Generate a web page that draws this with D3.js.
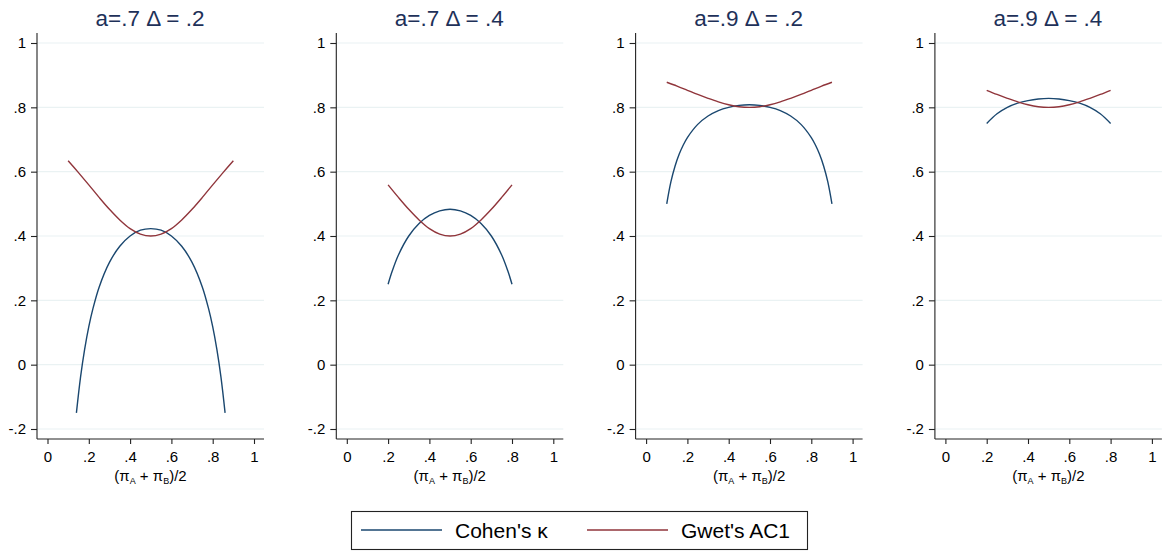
<!DOCTYPE html>
<html>
<head>
<meta charset="utf-8">
<script src="https://cdn.jsdelivr.net/npm/d3@7"></script>
<style>
  body { margin: 0; background: #fff; }
  svg { font-family: "Liberation Sans", Arial, sans-serif; }
</style>
</head>
<body>
<div id="grafico"></div>
<script>
const width = 1166
const height = 553

// panel titles
const titles = ['a=.7 Δ = .2', 'a=.7 Δ = .4', 'a=.9 Δ = .2', 'a=.9 Δ = .4']

// x positions, (πA + πB)/2, left half (mirrored to the right)
const xK1 = [.14, .16, .18, .2, .22, .25, .3, .35, .4, .45, .5]
const xK2 = [.2, .22, .25, .3, .35, .4, .45, .5]
const xK3 = [.1, .12, .14, .16, .18, .2, .25, .3, .35, .4, .45, .5]
const xK4 = [.2, .25, .3, .35, .4, .45, .5]
const xG13 = [.1, .15, .2, .25, .3, .35, .4, .45, .5]
const xG24 = [.2, .25, .3, .35, .4, .45, .5]

// Cohen's kappa values
const kappa1 = [-.150, -.039, .048, .118, .174, .241, .318, .368, .400, .418, .423]
const kappa2 = [.250, .291, .341, .400, .439, .464, .478, .483]
const kappa3 = [.500, .568, .617, .654, .683, .706, .747, .773, .790, .800, .806, .808]
const kappa4 = [.750, .780, .800, .813, .821, .826, .828]

// Gwet's AC1 values
const ac1_1 = [.634, .597, .559, .520, .483, .450, .423, .406, .400]
const ac1_2 = [.559, .520, .483, .450, .423, .406, .400]
const ac1_3 = [.878, .866, .853, .840, .828, .817, .808, .802, .800]
const ac1_4 = [.853, .840, .828, .817, .808, .802, .800]

const yTicks = [-.2, 0, .2, .4, .6, .8, 1]
const xTicks = [0, .2, .4, .6, .8, 1]
const fmt = v => v === 0 ? '0' : v === 1 ? '1' : String(v).replace('0.', '.')

const navy = '#1a476f'
const maroon = '#90353b'

// mirror the left half around .5
const full = (xs, ys) => {
    const left = xs.map((x, i) => [x, ys[i]])
    const right = left.slice(0, -1).reverse().map(d => [+(1 - d[0]).toFixed(2), d[1]])
    return left.concat(right)
}

const panels = [
    {title: titles[0], kappa: full(xK1, kappa1), ac1: full(xG13, ac1_1)},
    {title: titles[1], kappa: full(xK2, kappa2), ac1: full(xG24, ac1_2)},
    {title: titles[2], kappa: full(xK3, kappa3), ac1: full(xG13, ac1_3)},
    {title: titles[3], kappa: full(xK4, kappa4), ac1: full(xG24, ac1_4)}
]

const svg = d3.select('#grafico').append('svg')
              .attr('width', width)
              .attr('height', height)

const y = d3.scaleLinear().domain([-.2, 1]).range([429, 43])

panels.forEach((p, i) => {
    const ax = 37 + i * 299.3
    const x = d3.scaleLinear().domain([0, 1]).range([ax + 10.5, ax + 217])
    const g = svg.append('g')

    g.selectAll('.grid')
     .data(yTicks)
     .enter()
     .append('line')
     .attr('x1', ax)
     .attr('x2', ax + 227)
     .attr('y1', d => y(d))
     .attr('y2', d => y(d))
     .style('stroke', '#eaf2f3')
     .style('stroke-width', 1.2)

    const yAxis = g.append('g')
                   .attr('transform', `translate(${ax},0)`)
                   .call(d3.axisLeft(y).tickValues(yTicks).tickFormat(fmt).tickSize(6).tickPadding(5))
    yAxis.select('.domain').attr('d', `M0,33V439`)

    const xAxis = g.append('g')
                   .attr('transform', `translate(0,439)`)
                   .call(d3.axisBottom(x).tickValues(xTicks).tickFormat(fmt).tickSize(5).tickPadding(7))
    xAxis.select('.domain').attr('d', `M${ax},0H${ax + 227}`)

    g.selectAll('.domain, .tick line').style('stroke', '#222').style('stroke-width', 1.1)
    g.selectAll('.tick text').style('font-size', '15px').style('fill', '#000')
     .style('font-family', '"Liberation Sans", Arial, sans-serif')

    const line = d3.line().x(d => x(d[0])).y(d => y(d[1])).curve(d3.curveCatmullRom)

    g.append('path').datum(p.kappa)
     .attr('d', line).style('fill', 'none').style('stroke', navy).style('stroke-width', 1.4)
    g.append('path').datum(p.ac1)
     .attr('d', line).style('fill', 'none').style('stroke', maroon).style('stroke-width', 1.4)

    g.append('text')
     .attr('x', ax + 113)
     .attr('y', 26)
     .attr('text-anchor', 'middle')
     .style('font-size', '22.5px')
     .style('fill', '#1e3159')
     .text(p.title)

    const t = g.append('text')
               .attr('x', ax + 113.5)
               .attr('y', 481)
               .attr('text-anchor', 'middle')
               .style('font-size', '15px')
    t.append('tspan').text('(π')
    t.append('tspan').attr('dy', 3).style('font-size', '9px').text('A')
    t.append('tspan').attr('dy', -3).text(' + π')
    t.append('tspan').attr('dy', 3).style('font-size', '9px').text('B')
    t.append('tspan').attr('dy', -3).text(')/2')
})

// legend
const legend = svg.append('g')
legend.append('rect')
      .attr('x', 351.5).attr('y', 511.5)
      .attr('width', 456).attr('height', 38)
      .style('fill', '#fff').style('stroke', '#222').style('stroke-width', 1.1)

const items = [['Cohen\'s κ', navy, 361], ['Gwet\'s AC1', maroon, 587]]
items.forEach(([label, c, lx]) => {
    legend.append('line')
          .attr('x1', lx).attr('x2', lx + 81)
          .attr('y1', 530).attr('y2', 530)
          .style('stroke', c).style('stroke-width', 1.4)
    legend.append('text')
          .attr('x', lx + 94).attr('y', 538)
          .style('font-size', '21px')
          .text(label)
})
</script>
</body>
</html>
